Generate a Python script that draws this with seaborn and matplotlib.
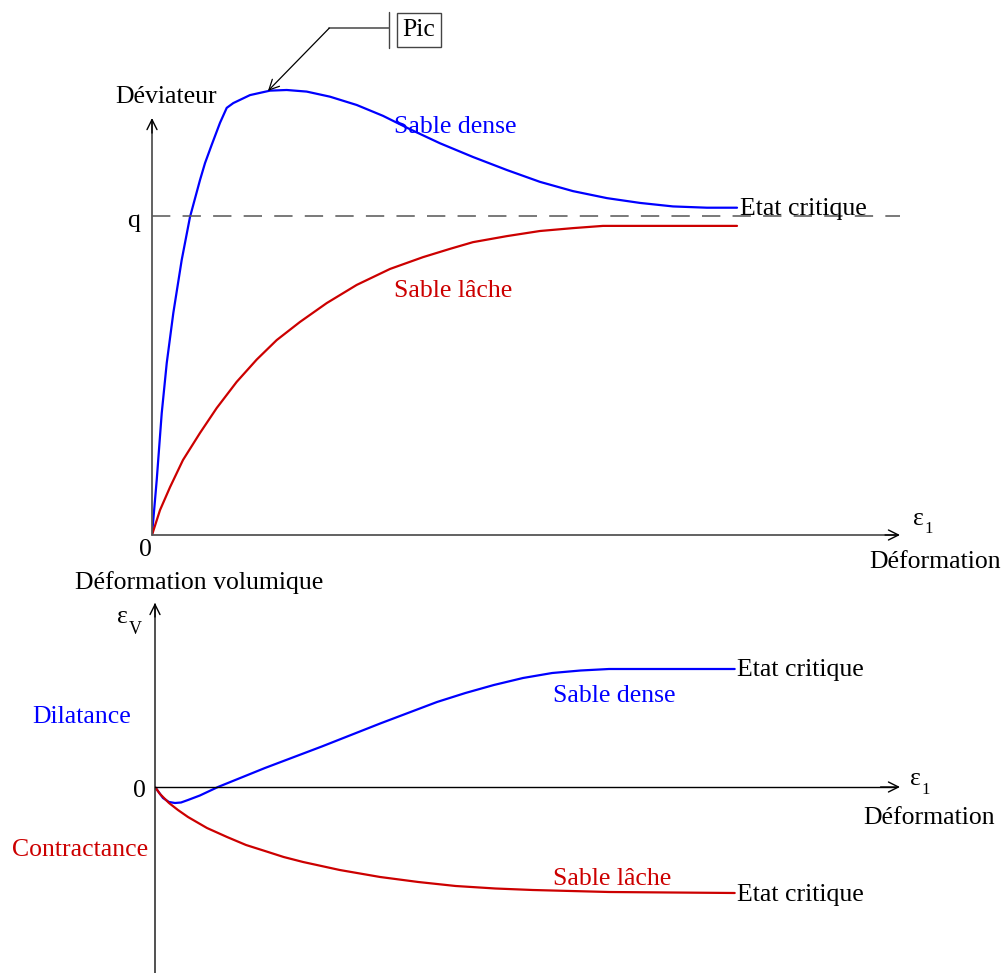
import matplotlib
matplotlib.use("Agg")
import matplotlib.pyplot as plt
import seaborn as sns
import pandas as pd

# courbe déviateur - déformation (q = 1)
dense_q_x = [0, 0.063, 0.130, 0.197, 0.285, 0.397, 0.508, 0.642, 0.709, 0.798, 0.909,
             0.999, 1.087, 1.310, 1.578, 1.801, 2.068, 2.380, 2.737, 3.088, 3.449, 3.850,
             4.291, 4.746, 5.187, 5.628, 6.083, 6.524, 6.965, 7.420, 7.821]
dense_q_y = [0, 0.172, 0.382, 0.539, 0.696, 0.862, 0.997, 1.113, 1.166, 1.223, 1.292,
             1.339, 1.354, 1.379, 1.393, 1.395, 1.390, 1.374, 1.348, 1.314, 1.272, 1.228,
             1.185, 1.144, 1.107, 1.078, 1.056, 1.041, 1.030, 1.026, 1.026]
lache_q_x = [0, 0.107, 0.241, 0.414, 0.642, 0.865, 1.132, 1.400, 1.667, 1.979, 2.336,
             2.737, 3.182, 3.623, 3.984, 4.291, 4.746, 5.187, 5.628, 6.029, 7.821]
lache_q_y = [0, 0.078, 0.150, 0.235, 0.320, 0.398, 0.480, 0.550, 0.611, 0.668, 0.727,
             0.784, 0.834, 0.871, 0.897, 0.918, 0.937, 0.953, 0.962, 0.969, 0.969]
q_crit = 1.0

# déformation volumique
dense_v_x = [0, 0.107, 0.187, 0.267, 0.348, 0.441, 0.60, 0.842, 1.47, 2.23, 3.01, 3.77,
             4.15, 4.53, 4.92, 5.31, 5.69, 6.07, 7.75]
dense_v_y = [0, -0.11, -0.15, -0.16, -0.155, -0.13, -0.085, 0, 0.19, 0.405, 0.635, 0.85,
             0.94, 1.02, 1.09, 1.14, 1.165, 1.18, 1.18]
lache_v_x = [0, 0.067, 0.187, 0.307, 0.441, 0.695, 0.963, 1.217, 1.47, 1.72, 1.98, 2.47,
             3.01, 3.52, 4.02, 4.55, 5.05, 5.56, 6.07, 6.91, 7.75]
lache_v_y = [0, -0.07, -0.16, -0.23, -0.30, -0.41, -0.50, -0.58, -0.64, -0.70, -0.75, -0.83,
             -0.90, -0.95, -0.99, -1.015, -1.03, -1.04, -1.05, -1.055, -1.06]

BLUE = "#0000ff"
RED = "#cc0000"
AXC = "#555555"
FS = 18.5
SUB = 12

sns.set_theme(style="white")
plt.rcParams["font.family"] = ["Liberation Serif", "DejaVu Serif"]
plt.rcParams["text.color"] = "black"

fig = plt.figure(figsize=(10.06, 9.73), dpi=100)
W, H = 1006, 973


def arrow(ax, start, end, color="black", lw=1.0):
    ax.annotate("", xy=end, xytext=start, annotation_clip=False,
                arrowprops=dict(arrowstyle="->", color=color, lw=lw, shrinkA=0, shrinkB=0,
                                mutation_scale=18))


# ---- haut ----
ax1 = fig.add_axes([152 / W, (H - 535) / H, 748 / W, 455 / H])
ax1.set_xlim(0, 10)
ax1.set_ylim(0, 455 / 319)
ax1.axis("off")

top = pd.DataFrame({"x": dense_q_x, "y": dense_q_y})
sns.lineplot(data=top, x="x", y="y", ax=ax1, color=BLUE, lw=1.6, estimator=None)
low = pd.DataFrame({"x": lache_q_x, "y": lache_q_y})
sns.lineplot(data=low, x="x", y="y", ax=ax1, color=RED, lw=1.6, estimator=None)

ax1.axhline(q_crit, color=AXC, lw=1.1, dashes=(12, 8))
ax1.plot([0, 0], [0, 1.30], color=AXC, lw=1.3, clip_on=False)
arrow(ax1, (0, 1.26), (0, 1.307))
ax1.plot([0, 9.95], [0, 0], color=AXC, lw=1.3, clip_on=False)
arrow(ax1, (9.8, 0), (10, 0))

ax1.text(0.19, 1.373, "Déviateur", fontsize=FS, ha="center", va="center")
ax1.text(-0.25, 0.984, "q", fontsize=FS, ha="center", va="center")
ax1.text(-0.09, -0.047, "0", fontsize=FS, ha="center", va="center")
ax1.text(10.25, 0.05, "ε", fontsize=FS, ha="center", va="center")
ax1.text(10.33, 0.045, "1", fontsize=SUB, ha="left", va="top")
ax1.text(10.47, -0.085, "Déformation", fontsize=FS, ha="center", va="center")
ax1.text(4.06, 1.279, "Sable dense", fontsize=FS, color=BLUE, ha="center", va="center")
ax1.text(4.02, 0.765, "Sable lâche", fontsize=FS, color=RED, ha="center", va="center")
ax1.text(7.86, 1.022, "Etat critique", fontsize=FS, ha="left", va="center")

# annotation du pic
ax1.text(3.57, 1.583, "Pic", fontsize=FS, ha="center", va="center", clip_on=False,
         bbox=dict(boxstyle="square,pad=0.22", fc="white", ec="#444444", lw=1.0))
ax1.plot([3.17, 3.17], [1.527, 1.639], color="#444444", lw=1.0, clip_on=False)
ax1.plot([2.37, 3.17], [1.589, 1.589], color="#555555", lw=1.2, clip_on=False)
arrow(ax1, (2.37, 1.589), (1.55, 1.392), lw=0.9)

# ---- bas ----
ax2 = fig.add_axes([155 / W, 0, 745 / W, 383 / H])
ax2.set_xlim(0, 745 / 74.8)
ax2.set_ylim(-1.86, 1.97)
ax2.axis("off")

vd = pd.DataFrame({"x": dense_v_x, "y": dense_v_y})
sns.lineplot(data=vd, x="x", y="y", ax=ax2, color=BLUE, lw=1.6, estimator=None)
vl = pd.DataFrame({"x": lache_v_x, "y": lache_v_y})
sns.lineplot(data=vl, x="x", y="y", ax=ax2, color=RED, lw=1.6, estimator=None)

ax2.plot([0, 0], [-1.86, 1.83], color="#333333", lw=1.2, clip_on=False)
arrow(ax2, (0, 1.7), (0, 1.84))
ax2.plot([0, 745 / 74.8 - 0.05], [0, 0], color="black", lw=1.0, clip_on=False)
arrow(ax2, (9.7, 0), (745 / 74.8, 0))

ax2.text(0.59, 2.04, "Déformation volumique", fontsize=FS, ha="center", va="center")
ax2.text(-0.43, 1.70, "ε", fontsize=FS, ha="center", va="center")
ax2.text(-0.35, 1.66, "V", fontsize=SUB + 1, ha="left", va="top")
ax2.text(-0.98, 0.70, "Dilatance", fontsize=FS, color=BLUE, ha="center", va="center")
ax2.text(-0.21, -0.04, "0", fontsize=FS, ha="center", va="center")
ax2.text(-1.0, -0.63, "Contractance", fontsize=FS, color=RED, ha="center", va="center")
ax2.text(10.17, 0.08, "ε", fontsize=FS, ha="center", va="center")
ax2.text(10.25, 0.045, "1", fontsize=SUB, ha="left", va="top")
ax2.text(10.35, -0.31, "Déformation", fontsize=FS, ha="center", va="center")
ax2.text(6.14, 0.91, "Sable dense", fontsize=FS, color=BLUE, ha="center", va="center")
ax2.text(6.11, -0.92, "Sable lâche", fontsize=FS, color=RED, ha="center", va="center")
ax2.text(7.78, 1.17, "Etat critique", fontsize=FS, ha="left", va="center")
ax2.text(7.78, -1.08, "Etat critique", fontsize=FS, ha="left", va="center")

fig.savefig("out.png", dpi=100, facecolor="white")
